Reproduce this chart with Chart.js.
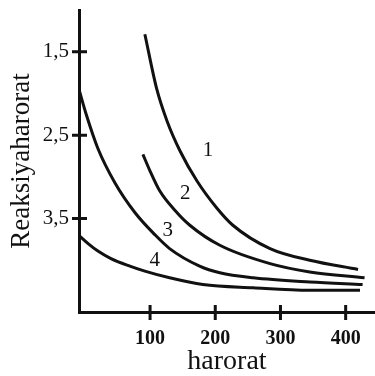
<!DOCTYPE html>
<html>
<head>
<meta charset="utf-8">
<script src="https://cdn.jsdelivr.net/npm/chart.js@4/dist/chart.umd.min.js"></script>
<style>
    html, body { margin: 0; padding: 0; background: #fff; }
    #wrap { width: 375px; height: 376px; }
</style>
</head>
<body>
<div id="wrap"><canvas id="chart"></canvas></div>
<script>
// values (x: harorat, y: reaksiya, axis reversed)
const xTicks = [100, 200, 300, 400];
const yTicks = [1.5, 2.5, 3.5];

const curve1X = [92, 110, 126, 146, 172, 202, 227, 284, 345, 419];
const curve1Y = [1.29, 1.94, 2.33, 2.69, 3.05, 3.37, 3.58, 3.86, 4.0, 4.11];

const curve2X = [89, 100, 115, 138, 161, 207, 284, 345, 429];
const curve2Y = [2.73, 2.93, 3.17, 3.4, 3.58, 3.82, 4.04, 4.14, 4.21];

const curve3X = [-8, 2, 20, 46, 77, 107, 130, 176, 207, 258, 345, 426];
const curve3Y = [1.98, 2.25, 2.66, 3.07, 3.43, 3.69, 3.86, 4.07, 4.15, 4.21, 4.26, 4.29];

const curve4X = [-8, 5, 20, 40, 69, 92, 130, 181, 258, 345, 422];
const curve4Y = [3.71, 3.8, 3.89, 3.98, 4.07, 4.13, 4.21, 4.29, 4.33, 4.36, 4.36];

const curveNames = ['1', '2', '3', '4'];
const nameX = [189, 154, 127, 107];
const nameY = [2.68, 3.2, 3.64, 4.0];

const serif = "'Liberation Serif', 'DejaVu Serif', serif";

function toPoints(xs, ys) {
    return xs.map((x, i) => ({ x: x, y: ys[i] }));
}

const series = [
    [curve1X, curve1Y],
    [curve2X, curve2Y],
    [curve3X, curve3Y],
    [curve4X, curve4Y]
];

const datasets = series.map((s, idx) => ({
    label: curveNames[idx],
    data: toPoints(s[0], s[1]),
    borderColor: '#111',
    borderWidth: 3,
    pointRadius: 0,
    cubicInterpolationMode: 'monotone',
    fill: false
}));

// tick marks that cross the axis lines
const crossTicks = {
    id: 'crossTicks',
    afterDraw(chart) {
        const ctx = chart.ctx;
        const xs = chart.scales.x;
        const ys = chart.scales.y;
        ctx.save();
        ctx.strokeStyle = '#111';
        ctx.lineWidth = 3;
        ctx.beginPath();
        yTicks.forEach(v => {
            const py = ys.getPixelForValue(v);
            ctx.moveTo(xs.left - 7, py);
            ctx.lineTo(xs.left + 8, py);
        });
        xTicks.forEach(v => {
            const px = xs.getPixelForValue(v);
            ctx.moveTo(px, ys.bottom - 7);
            ctx.lineTo(px, ys.bottom + 8);
        });
        ctx.stroke();
        ctx.restore();
    }
};

// the 1..4 numbers next to the curves
const curveLabels = {
    id: 'curveLabels',
    afterDatasetsDraw(chart) {
        const ctx = chart.ctx;
        const xs = chart.scales.x;
        const ys = chart.scales.y;
        ctx.save();
        ctx.fillStyle = '#111';
        ctx.font = '21px ' + serif;
        ctx.textAlign = 'center';
        ctx.textBaseline = 'middle';
        curveNames.forEach((name, i) => {
            ctx.fillText(name, xs.getPixelForValue(nameX[i]), ys.getPixelForValue(nameY[i]));
        });
        ctx.restore();
    }
};

new Chart(document.getElementById('chart'), {
    type: 'line',
    data: { datasets },
    plugins: [crossTicks, curveLabels],
    options: {
        responsive: true,
        maintainAspectRatio: false,
        animation: false,
        layout: { padding: { top: 10, right: 0, left: 0, bottom: 0 } },
        plugins: {
            legend: { display: false },
            tooltip: { enabled: false }
        },
        scales: {
            x: {
                type: 'linear',
                min: -9,
                max: 445,
                afterBuildTicks: scale => { scale.ticks = xTicks.map(v => ({ value: v })); },
                afterFit: scale => {
                    scale.height = 64;
                    scale.paddingLeft = 0;
                    scale.paddingRight = 0;
                },
                grid: { display: false, drawTicks: false },
                border: { display: true, color: '#111', width: 3 },
                ticks: {
                    color: '#111',
                    padding: 15,
                    maxRotation: 0,
                    font: { family: serif, size: 20, weight: 'bold' }
                },
                title: {
                    display: true,
                    text: 'harorat',
                    color: '#111',
                    padding: { top: 0, bottom: 0 },
                    font: { family: serif, size: 28, lineHeight: 1 }
                }
            },
            y: {
                type: 'linear',
                reverse: true,
                min: 1.0,
                max: 4.62,
                afterBuildTicks: scale => { scale.ticks = yTicks.map(v => ({ value: v })); },
                afterFit: scale => {
                    scale.width = 79;
                    scale.paddingTop = 0;
                    scale.paddingBottom = 0;
                },
                grid: { display: false, drawTicks: false },
                border: { display: true, color: '#111', width: 3 },
                ticks: {
                    color: '#111',
                    padding: 10,
                    font: { family: serif, size: 21 },
                    callback: v => String(v).replace('.', ',')
                },
                title: {
                    display: true,
                    text: 'Reaksiyaharorat',
                    color: '#111',
                    padding: { top: 8, bottom: 0 },
                    font: { family: serif, size: 27, lineHeight: 1 }
                }
            }
        }
    }
});
</script>
</body>
</html>
